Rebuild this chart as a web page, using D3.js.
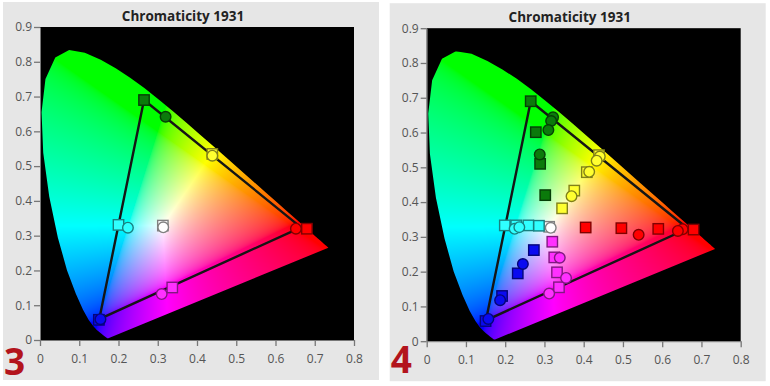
<!DOCTYPE html>
<html>
<head>
<meta charset="utf-8">
<script src="https://cdn.jsdelivr.net/npm/d3@7"></script>
<style>
  body { margin: 0; background: #fff; }
  text { font-family: "Open Sans", "DejaVu Sans", sans-serif; }
</style>
</head>
<body>
<svg id="chart" width="770" height="386"></svg>
<script>
// axis ticks
const xTicks = [0, 0.1, 0.2, 0.3, 0.4, 0.5, 0.6, 0.7, 0.8];
const yTicks = [0, 0.1, 0.2, 0.3, 0.4, 0.5, 0.6, 0.7, 0.8, 0.9];

// CIE 1931 2deg spectral locus, 380..700 nm
const spectralLocus = [
  [0.1741,0.0050],[0.1740,0.0050],[0.1738,0.0049],[0.1736,0.0049],[0.1733,0.0048],
  [0.1730,0.0048],[0.1726,0.0048],[0.1721,0.0048],[0.1714,0.0051],[0.1703,0.0058],
  [0.1689,0.0069],[0.1669,0.0086],[0.1644,0.0109],[0.1611,0.0138],[0.1566,0.0177],
  [0.1510,0.0227],[0.1440,0.0297],[0.1355,0.0399],[0.1241,0.0578],[0.1096,0.0868],
  [0.0913,0.1327],[0.0687,0.2007],[0.0454,0.2950],[0.0235,0.4127],[0.0082,0.5384],
  [0.0039,0.6548],[0.0139,0.7502],[0.0389,0.8120],[0.0743,0.8338],[0.1142,0.8262],
  [0.1547,0.8059],[0.1929,0.7816],[0.2296,0.7543],[0.2658,0.7243],[0.3016,0.6923],
  [0.3373,0.6589],[0.3731,0.6245],[0.4087,0.5896],[0.4441,0.5547],[0.4788,0.5202],
  [0.5125,0.4866],[0.5448,0.4544],[0.5752,0.4242],[0.6029,0.3965],[0.6270,0.3725],
  [0.6482,0.3514],[0.6658,0.3340],[0.6801,0.3197],[0.6915,0.3083],[0.7006,0.2993],
  [0.7079,0.2920],[0.7140,0.2859],[0.7190,0.2809],[0.7230,0.2770],[0.7260,0.2740],
  [0.7283,0.2717],[0.7300,0.2700],[0.7311,0.2689],[0.7320,0.2680],[0.7334,0.2666],
  [0.7347,0.2653]
];

// reference gamut triangle (G, R, B)
const gamutTriangle = [[0.265, 0.690], [0.665, 0.324], [0.151, 0.060]];

// panel 3 : primaries / secondaries / white
const panel3Keys = ["white", "red", "green", "blue", "cyan", "magenta", "yellow"];
const panel3Targets = [[0.313,0.329],[0.680,0.320],[0.265,0.690],[0.150,0.058],[0.200,0.331],[0.337,0.151],[0.439,0.535]];
const panel3Measured = [[0.314,0.324],[0.652,0.320],[0.320,0.642],[0.154,0.060],[0.224,0.323],[0.310,0.132],[0.439,0.530]];

// panel 4 : saturation sweeps (100, 75, 50, 25 %)
const red4Targets = [[0.680,0.321],[0.590,0.323],[0.496,0.325],[0.405,0.327]];
const red4Measured = [[0.652,0.322],[0.640,0.317],[0.540,0.306]];
const green4Targets = [[0.265,0.690],[0.278,0.601],[0.289,0.510],[0.302,0.420]];
const green4Measured = [[0.322,0.644],[0.317,0.633],[0.310,0.607],[0.288,0.537]];
const blue4Targets = [[0.150,0.058],[0.192,0.130],[0.232,0.195],[0.273,0.262]];
const blue4Measured = [[0.157,0.064],[0.187,0.118],[0.245,0.222]];
const cyan4Targets = [[0.199,0.333],[0.228,0.333],[0.259,0.333],[0.286,0.332]];
const cyan4Measured = [[0.224,0.323],[0.236,0.328]];
const magenta4Targets = [[0.337,0.155],[0.332,0.198],[0.325,0.241],[0.320,0.286]];
const magenta4Measured = [[0.339,0.240],[0.355,0.182],[0.312,0.137]];
const yellow4Targets = [[0.439,0.535],[0.408,0.486],[0.376,0.433],[0.345,0.382]];
const yellow4Measured = [[0.441,0.531],[0.433,0.519],[0.414,0.487],[0.369,0.417]];
const white4Targets = [[0.312,0.329]];
const white4Measured = [[0.316,0.326]];

const markerFill = {
  white: "#ffffff", red: "#ff0000", green: "#0b7a0b", blue: "#0a0af0",
  cyan: "#30ffff", magenta: "#ff30ff", yellow: "#ffff30"
};

const plotW = 314, plotH = 313;
const x = d3.scaleLinear().domain([0, 0.8]).range([0, plotW]);
const y = d3.scaleLinear().domain([0, 0.9]).range([plotH, 0]);

const svg = d3.select("#chart");
const defs = svg.append("defs");

const locusLine = d3.line().x(d => x(d[0])).y(d => y(d[1]));
defs.append("clipPath").attr("id", "locus-clip")
  .append("path").attr("d", locusLine(spectralLocus) + "Z");

// paint the chromaticity colours once on a canvas
function gammaEnc(v) {
  return v <= 0.0031308 ? 12.92 * v : 1.055 * Math.pow(v, 1 / 2.4) - 0.055;
}
function chromaRGB(cx, cy) {
  if (cy <= 0.0005) return [0, 0, 255];
  const X = cx / cy, Z = (1 - cx - cy) / cy;
  let r = Math.max(0, 3.2406 * X - 1.5372 - 0.4986 * Z);
  let g = Math.max(0, -0.9689 * X + 1.8758 + 0.0415 * Z);
  let b = Math.max(0, 0.0557 * X - 0.2040 + 1.0570 * Z);
  const m = Math.max(r, g, b) || 1;
  return [r / m, g / m, b / m].map(v => Math.round(255 * gammaEnc(v)));
}
const canvas = document.createElement("canvas");
canvas.width = plotW; canvas.height = plotH;
const ctx = canvas.getContext("2d");
const img = ctx.createImageData(plotW, plotH);
for (let j = 0; j < plotH; j++) {
  for (let i = 0; i < plotW; i++) {
    const c = chromaRGB(x.invert(i + 0.5), y.invert(j + 0.5));
    const k = (j * plotW + i) * 4;
    img.data[k] = c[0]; img.data[k + 1] = c[1]; img.data[k + 2] = c[2]; img.data[k + 3] = 255;
  }
}
ctx.putImageData(img, 0, 0);
const chromaUrl = canvas.toDataURL();

function drawPanel(offsetX, offsetY, label, labelY, series) {
  const panel = svg.append("g").attr("transform", `translate(${offsetX},${offsetY})`);

  panel.append("rect").attr("x", 3).attr("y", 2).attr("width", 376).attr("height", 378)
    .attr("fill", "#e6e6e6");

  panel.append("text").attr("x", 183).attr("y", 21).attr("text-anchor", "middle")
    .attr("font-size", 13.5).attr("font-weight", "bold").attr("fill", "#222")
    .text("Chromaticity 1931");

  const plot = panel.append("g").attr("transform", "translate(40,27)");
  plot.append("rect").attr("width", plotW).attr("height", plotH).attr("fill", "#000");
  plot.append("image").attr("href", chromaUrl).attr("width", plotW).attr("height", plotH)
    .attr("clip-path", "url(#locus-clip)");

  const fmt = d => d === 0 ? "0" : d3.format(".1f")(d);
  const ax = plot.append("g").attr("transform", `translate(0,${plotH})`)
    .call(d3.axisBottom(x).tickValues(xTicks).tickFormat(fmt).tickSize(6).tickSizeOuter(0).tickPadding(8));
  const ay = plot.append("g")
    .call(d3.axisLeft(y).tickValues(yTicks).tickFormat(fmt).tickSize(6).tickSizeOuter(0).tickPadding(2));
  [ax, ay].forEach(a => {
    a.select(".domain").attr("stroke", "#777");
    a.selectAll(".tick line").attr("stroke", "#777").attr("stroke-width", 1.3);
    a.selectAll(".tick text").attr("fill", "#555").attr("font-size", 12)
      .attr("font-family", "'Open Sans', sans-serif");
  });

  plot.append("path")
    .attr("d", d3.line().x(d => x(d[0])).y(d => y(d[1]))(gamutTriangle) + "Z")
    .attr("fill", "none").attr("stroke", "#151515").attr("stroke-width", 2.4)
    .attr("stroke-linejoin", "round");

  const squares = series.flatMap(s => s.targets.map(p => ({ p, key: s.key })));
  const circles = series.flatMap(s => s.measured.map(p => ({ p, key: s.key })));

  plot.append("g").selectAll("rect").data(squares).enter().append("rect")
    .attr("x", d => x(d.p[0]) - 5.2).attr("y", d => y(d.p[1]) - 5.2)
    .attr("width", 10.4).attr("height", 10.4)
    .attr("fill", d => markerFill[d.key])
    .attr("stroke", d => d3.color(markerFill[d.key]).darker(1.9))
    .attr("stroke-width", 1.4);

  plot.append("g").selectAll("circle").data(circles).enter().append("circle")
    .attr("cx", d => x(d.p[0])).attr("cy", d => y(d.p[1])).attr("r", 5.3)
    .attr("fill", d => markerFill[d.key])
    .attr("stroke", d => d3.color(markerFill[d.key]).darker(1.9))
    .attr("stroke-width", 1.4);

  panel.append("text").attr("x", 4).attr("y", labelY)
    .attr("font-size", 37).attr("font-weight", "bold").attr("fill", "#b3141c")
    .attr("font-family", "'Open Sans', sans-serif")
    .text(label);
}

drawPanel(0, 0, "3", 375, panel3Keys.map((k, i) => ({
  key: k, targets: [panel3Targets[i]], measured: [panel3Measured[i]]
})));

drawPanel(386.7, 1.2, "4", 372, [
  { key: "white", targets: white4Targets, measured: white4Measured },
  { key: "red", targets: red4Targets, measured: red4Measured },
  { key: "green", targets: green4Targets, measured: green4Measured },
  { key: "blue", targets: blue4Targets, measured: blue4Measured },
  { key: "cyan", targets: cyan4Targets, measured: cyan4Measured },
  { key: "magenta", targets: magenta4Targets, measured: magenta4Measured },
  { key: "yellow", targets: yellow4Targets, measured: yellow4Measured }
]);
</script>
</body>
</html>
